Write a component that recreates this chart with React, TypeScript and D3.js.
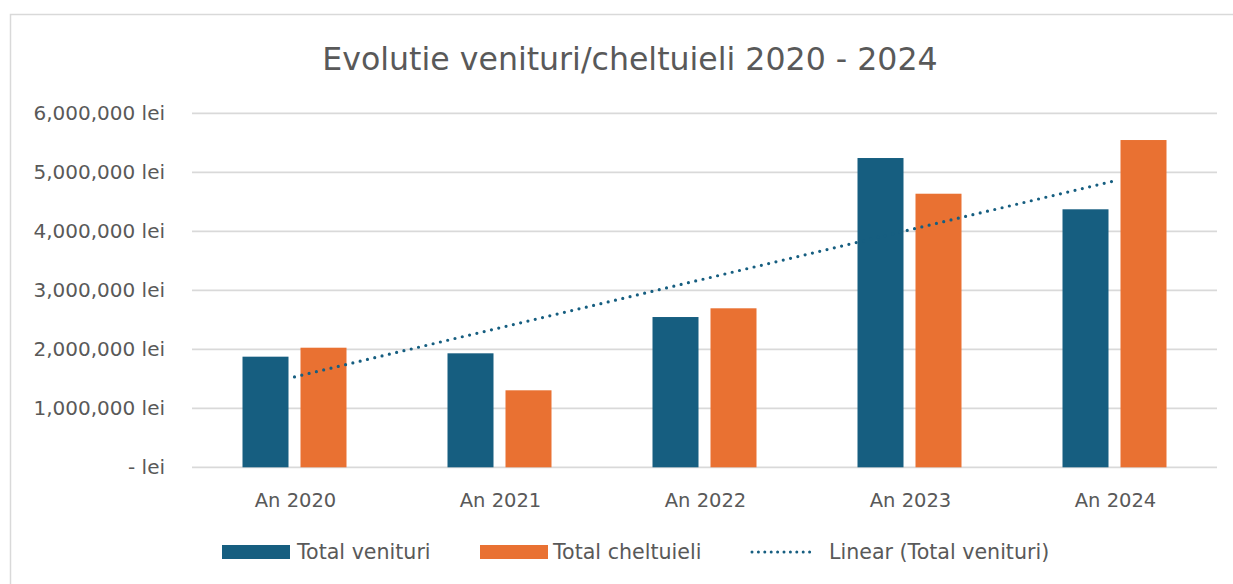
import React from "react";
import * as d3 from "d3";

const categories = ["An 2020", "An 2021", "An 2022", "An 2023", "An 2024"];
const venituri = [1875000, 1932000, 2547000, 5242000, 4373000];
const cheltuieli = [2027000, 1305000, 2695000, 4637000, 5547000];
const yTicks = [0, 1000000, 2000000, 3000000, 4000000, 5000000, 6000000];
const seriesNames = ["Total venituri", "Total cheltuieli", "Linear (Total venituri)"];
const title = "Evolutie venituri/cheltuieli 2020 - 2024";

const W = 1233;
const H = 584;
const BLUE = "#165e80";
const ORANGE = "#e97132";
const TEXT = "#595959";
const GRID = "#d9d9d9";
const FONT = "'DejaVu Sans', 'Noto Sans', sans-serif";

export default function App() {
  const x = d3.scaleBand<string>().domain(categories).range([192, 1217]);
  const y = d3.scaleLinear().domain([0, 6000000]).range([467.3, 113.3]);
  const barW = 46;
  const gap = 12;
  const fmt = (v: number) => (v === 0 ? "- lei" : d3.format(",")(v) + " lei");

  // linear trendline (least squares) over venituri
  const xs = venituri.map((_, i) => i + 1);
  const mx = d3.mean(xs) as number;
  const my = d3.mean(venituri) as number;
  const slope =
    d3.sum(xs.map((xi, i) => (xi - mx) * (venituri[i] - my))) /
    d3.sum(xs.map((xi) => (xi - mx) ** 2));
  const icpt = my - slope * mx;
  const trend = xs.map((xi, i) => [
    (x(categories[i]) as number) + x.bandwidth() / 2,
    y(icpt + slope * xi),
  ]) as [number, number][];
  const line = d3.line();

  const legend = [
    { sx: 222, tx: 297, kind: "bar", color: BLUE, label: seriesNames[0] },
    { sx: 480, tx: 553, kind: "bar", color: ORANGE, label: seriesNames[1] },
    { sx: 750, tx: 829, kind: "dot", color: BLUE, label: seriesNames[2] },
  ];

  return (
    <svg
      width={W}
      height={H}
      style={{ position: "absolute", left: 0, top: 0, fontFamily: FONT }}
    >
      <rect x={0} y={0} width={W} height={H} fill="#fff" />
      <path d={`M10.5,${H} V14.5 H${W}`} fill="none" stroke="#d9d9d9" strokeWidth={1.5} />
      <text x={630} y={70} textAnchor="middle" fontSize={31.6} fill={TEXT}>
        {title}
      </text>
      {yTicks.map((t) => (
        <g key={t}>
          <line x1={192} x2={1217} y1={y(t)} y2={y(t)} stroke={GRID} strokeWidth={1.8} />
          <text x={165} y={y(t) + 7} textAnchor="end" fontSize={20} fill={TEXT}>
            {fmt(t)}
          </text>
        </g>
      ))}
      {categories.map((c, i) => {
        const cx = (x(c) as number) + x.bandwidth() / 2;
        return (
          <g key={c}>
            <rect
              x={cx - gap / 2 - barW}
              y={y(venituri[i])}
              width={barW}
              height={y(0) - y(venituri[i])}
              fill={BLUE}
            />
            <rect
              x={cx + gap / 2}
              y={y(cheltuieli[i])}
              width={barW}
              height={y(0) - y(cheltuieli[i])}
              fill={ORANGE}
            />
            <text x={cx + 1} y={507} textAnchor="middle" fontSize={19.5} fill={TEXT}>
              {c}
            </text>
          </g>
        );
      })}
      <path
        d={line(trend) as string}
        fill="none"
        stroke={BLUE}
        strokeWidth={3.2}
        strokeDasharray="0 7.5"
        strokeLinecap="round"
      />
      <g fontSize={20.6} fill={TEXT}>
        {legend.map((l) => (
          <g key={l.label}>
            {l.kind === "bar" ? (
              <rect x={l.sx} y={545} width={68} height={14} fill={l.color} />
            ) : (
              <line
                x1={l.sx + 2}
                x2={l.sx + 66}
                y1={552}
                y2={552}
                stroke={l.color}
                strokeWidth={3}
                strokeDasharray="0 6.4"
                strokeLinecap="round"
              />
            )}
            <text x={l.tx} y={559}>{l.label}</text>
          </g>
        ))}
      </g>
    </svg>
  );
}
